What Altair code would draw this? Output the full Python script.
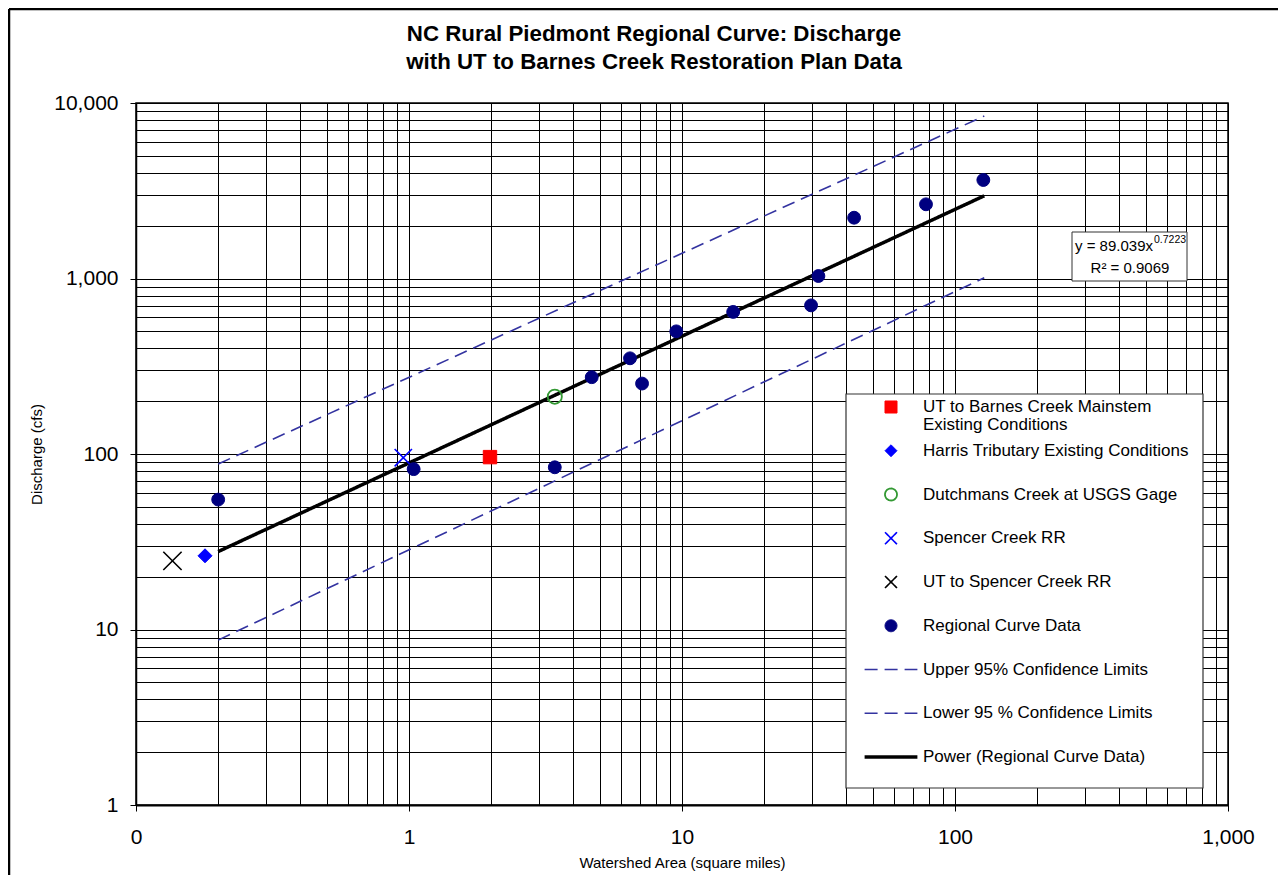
import altair as alt
import pandas as pd

FONT = "Liberation Sans"

TITLE_LINES = ["NC Rural Piedmont Regional Curve: Discharge",
               "with UT to Barnes Creek Restoration Plan Data"]
X_TITLE = "Watershed Area (square miles)"
Y_TITLE = "Discharge (cfs)"
EQ_TEXT = "y = 89.039x"
EQ_EXP = "0.7223"
R2_TEXT = "R\u00b2 = 0.9069"

SERIES = [
    "UT to Barnes Creek Mainstem Existing Conditions",
    "Harris Tributary Existing Conditions",
    "Dutchmans Creek at USGS Gage",
    "Spencer Creek RR",
    "UT to Spencer Creek RR",
    "Regional Curve Data",
    "Upper 95% Confidence Limits",
    "Lower 95 % Confidence Limits",
    "Power (Regional Curve Data)",
]
FIRST_LABEL = ["UT to Barnes Creek Mainstem", "Existing Conditions"]

# ---- marker series (watershed area, discharge) ----
MAINSTEM_AREA = [1.98]
MAINSTEM_Q = [96]
HARRIS_AREA = [0.179]
HARRIS_Q = [26.3]
DUTCH_AREA = [3.42]
DUTCH_Q = [212]
SPENCER_AREA = [0.953]
SPENCER_Q = [95.3]
UTSPENCER_AREA = [0.136]
UTSPENCER_Q = [24.6]
REG_AREA = [0.2, 1.04, 3.42, 4.67, 6.45, 7.14, 9.53, 15.4, 29.7, 31.6, 42.7, 78.3, 127]
REG_Q = [55, 82, 84, 274, 351, 252, 500, 645, 703, 1033, 2220, 2647, 3641]

# ---- line series (end points) ----
UPPER_AREA = [0.2, 128]
UPPER_Q = [87.7, 8430]
LOWER_AREA = [0.2, 128]
LOWER_Q = [8.7, 1010]
POWER_AREA = [0.2, 128]
POWER_Q = [27.8, 2960]

X_MAJOR = [0.1, 1, 10, 100, 1000]
Y_MAJOR = [1, 10, 100, 1000, 10000]
X_GRID = [round(m * d, 6) for d in X_MAJOR[:-1] for m in range(1, 10)] + [X_MAJOR[-1]]
Y_GRID = [round(m * d, 6) for d in Y_MAJOR[:-1] for m in range(1, 10)] + [Y_MAJOR[-1]]

XPATH = "M-1,-1L1,1M-1,1L1,-1"
LINEPATH = "M-4.4,0L4.4,0"
FILL_RANGE = ["#FF0000", "#0000FF", "transparent", "transparent", "transparent",
              "#000080", "transparent", "transparent", "transparent"]
STROKE_RANGE = ["#FF0000", "#0000FF", "#339933", "#0000FF", "#000000",
                "#000080", "#3333A0", "#3333A0", "#000000"]
SHAPE_RANGE = ["square", "diamond", "circle", XPATH, XPATH, "circle",
               LINEPATH, LINEPATH, LINEPATH]
DASH_RANGE = [[1, 0]] * 6 + [[13, 7], [13, 7], [1, 0]]
WIDTH_RANGE = [1, 1, 1.8, 1.6, 1.6, 1, 1.6, 1.6, 3.5]
POINT_SERIES = SERIES[:6]
SIZE_RANGE = [180, 196, 200, 300, 335, 165]

point_sets = [
    (SERIES[0], MAINSTEM_AREA, MAINSTEM_Q),
    (SERIES[1], HARRIS_AREA, HARRIS_Q),
    (SERIES[2], DUTCH_AREA, DUTCH_Q),
    (SERIES[3], SPENCER_AREA, SPENCER_Q),
    (SERIES[4], UTSPENCER_AREA, UTSPENCER_Q),
    (SERIES[5], REG_AREA, REG_Q),
]
line_sets = [
    (SERIES[6], UPPER_AREA, UPPER_Q),
    (SERIES[7], LOWER_AREA, LOWER_Q),
    (SERIES[8], POWER_AREA, POWER_Q),
]

pts = pd.DataFrame(
    [{"series": s, "area": a, "q": q} for s, A, Q in point_sets for a, q in zip(A, Q)]
)
lns = pd.DataFrame(
    [{"series": s, "area": a, "q": q, "order": i}
     for s, A, Q in line_sets for i, (a, q) in enumerate(zip(A, Q))]
)
one = pd.DataFrame({"k": [0]})

MAJ = "abs(log(datum.value)/LN10 - round(log(datum.value)/LN10)) < 0.001"

xscale = alt.Scale(type="log", domain=[0.1, 1000], nice=False)
yscale = alt.Scale(type="log", domain=[1, 10000], nice=False)

xaxis = alt.Axis(
    values=X_GRID, grid=True, gridColor="#000", gridWidth=1, gridOpacity=1,
    labelExpr=f"{MAJ} ? (datum.value < 0.5 ? '0' : format(datum.value, ',')) : ''",
    labelFont=FONT, labelFontSize=21, labelColor="#000", labelPadding=15,
    labelFlush=False, labelOverlap=False,
    tickSize=6, tickColor="#000", tickWidth=1,
    tickOpacity={"condition": {"test": MAJ, "value": 1}, "value": 0},
    domainColor="#000", domainWidth=2,
    title=X_TITLE, titleFont=FONT, titleFontSize=15, titleFontWeight="normal",
    titleColor="#000", titleX=546, titleY=57, titleBaseline="middle", titleAlign="center",
)
yaxis = alt.Axis(
    values=Y_GRID, grid=True, gridColor="#000", gridWidth=1, gridOpacity=1,
    labelExpr=f"{MAJ} ? format(datum.value, ',') : ''",
    labelFont=FONT, labelFontSize=21, labelColor="#000", labelPadding=12,
    labelFlush=False, labelOverlap=False,
    tickSize=6, tickColor="#000", tickWidth=1,
    tickOpacity={"condition": {"test": MAJ, "value": 1}, "value": 0},
    domainColor="#000", domainWidth=1.5,
    title=Y_TITLE, titleFont=FONT, titleFontSize=15, titleFontWeight="normal",
    titleColor="#000", titleX=-100, titleY=351, titleBaseline="middle", titleAlign="center",
    titleAngle=270,
)

LEG_FONT = 17
LEG = alt.Legend(
    title=None, orient="none", legendX=720, legendY=295, padding=0,
    rowPadding=25.75, clipHeight=18, symbolSize=144, symbolOffset=26.5, labelOffset=23.5,
    labelFont=FONT, labelFontSize=LEG_FONT, labelColor="#000", labelLimit=400,
    symbolOpacity=1,
    labelExpr=("datum.label == '" + SERIES[0] + "' ? '" + FIRST_LABEL[0] + "' : datum.label"),
)

def sc(rng, typ=None, dom=SERIES):
    if typ:
        return alt.Scale(type=typ, domain=dom, range=rng)
    return alt.Scale(domain=dom, range=rng)

X = alt.X("area:Q", scale=xscale, axis=xaxis)
Y = alt.Y("q:Q", scale=yscale, axis=yaxis)

lines = alt.Chart(lns).mark_line().encode(
    x=X, y=Y,
    stroke=alt.Stroke("series:N", scale=sc(STROKE_RANGE), legend=LEG),
    strokeDash=alt.StrokeDash("series:N", scale=sc(DASH_RANGE), legend=LEG),
    strokeWidth=alt.StrokeWidth("series:N", scale=sc(WIDTH_RANGE, "ordinal"), legend=LEG),
    order="order:Q",
)

points = alt.Chart(pts).mark_point(opacity=1).encode(
    x=X, y=Y,
    shape=alt.Shape("series:N", scale=sc(SHAPE_RANGE), legend=LEG),
    fill=alt.Fill("series:N", scale=sc(FILL_RANGE), legend=LEG),
    stroke=alt.Stroke("series:N", scale=sc(STROKE_RANGE), legend=LEG),
    strokeWidth=alt.StrokeWidth("series:N", scale=sc(WIDTH_RANGE, "ordinal"), legend=LEG),
    size=alt.Size("series:N", scale=sc(SIZE_RANGE, "ordinal", POINT_SERIES), legend=None),
)

base = alt.Chart(one)
legend_box = base.mark_rect(fill="white", stroke="#333", strokeWidth=1.2).encode(
    x=alt.value(710), x2=alt.value(1067), y=alt.value(291), y2=alt.value(685))
legend_line2 = base.mark_text(text=FIRST_LABEL[1], font=FONT, fontSize=LEG_FONT,
                              align="left", baseline="middle", color="#000").encode(
    x=alt.value(787), y=alt.value(322))
eq_box = base.mark_rect(fill="white", stroke="#333", strokeWidth=1).encode(
    x=alt.value(936), x2=alt.value(1051), y=alt.value(129), y2=alt.value(178))
eq_text = base.mark_text(text=EQ_TEXT, font=FONT, fontSize=15, align="left",
                         baseline="middle", color="#000").encode(
    x=alt.value(939), y=alt.value(143))
eq_exp = base.mark_text(text=EQ_EXP, font=FONT, fontSize=10.5, align="left",
                        baseline="middle", color="#000").encode(
    x=alt.value(1018), y=alt.value(137))
r2_text = base.mark_text(text=R2_TEXT, font=FONT, fontSize=15, align="center",
                         baseline="middle", color="#000").encode(
    x=alt.value(994), y=alt.value(165))
title = base.mark_text(text=TITLE_LINES, font=FONT, fontSize=22.3, fontWeight="bold",
                       align="center", baseline="top", lineHeight=28, color="#000").encode(
    x=alt.value(518), y=alt.value(-80))
frame_left = base.mark_rule(color="#000", strokeWidth=2.5).encode(
    x=alt.value(-127), y=alt.value(-94), y2=alt.value(772))
frame_top = base.mark_rule(color="#000", strokeWidth=2.5).encode(
    x=alt.value(-127), x2=alt.value(1142), y=alt.value(-94))

chart = alt.layer(
    legend_box, legend_line2, eq_box, lines, points, eq_text, eq_exp, r2_text, title,
    frame_left, frame_top,
).properties(
    width=1092, height=702,
    autosize=alt.AutoSizeParams(type="none"),
    padding={"left": 128, "top": 95, "right": 50, "bottom": 70},
    background="white",
).configure_view(stroke="#000", strokeWidth=1.5)

chart.save("out.html", embed_options={"renderer": "svg", "actions": False})
